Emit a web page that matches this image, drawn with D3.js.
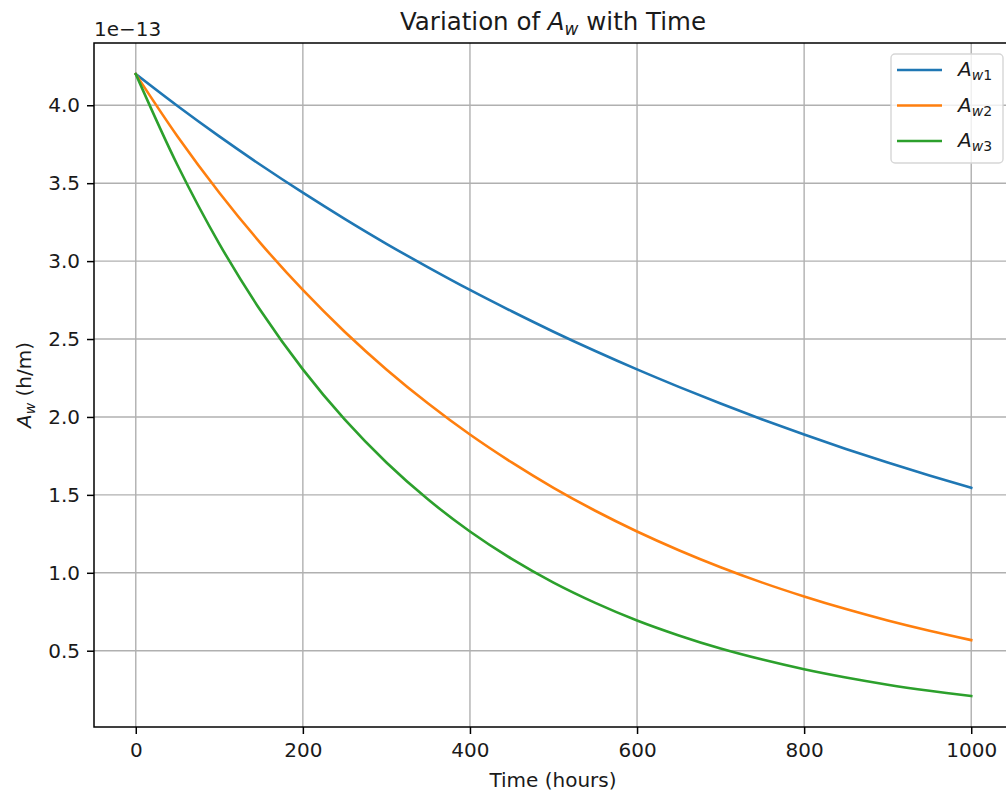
<!DOCTYPE html>
<html>
<head>
<meta charset="utf-8">
<script src="https://cdn.jsdelivr.net/npm/d3@7"></script>
<style>
  body { margin: 0; background: #fff; overflow: hidden; }
  svg { font-family: "DejaVu Sans", sans-serif; display: block; }
</style>
</head>
<body>
<div id="chart"></div>
<script>
// time in hours
var hours = [0, 50, 100, 150, 200, 250, 300, 350, 400, 450, 500,
             550, 600, 650, 700, 750, 800, 850, 900, 950, 1000];

// A_w values, in units of 1e-13 h/m
var aw1 = [4.200, 3.995, 3.800, 3.615, 3.439, 3.271, 3.111, 2.960, 2.815, 2.678, 2.547,
           2.423, 2.305, 2.193, 2.086, 1.984, 1.887, 1.795, 1.708, 1.624, 1.545];
var aw2 = [4.200, 3.800, 3.439, 3.111, 2.815, 2.547, 2.305, 2.086, 1.887, 1.708, 1.545,
           1.398, 1.265, 1.145, 1.036, 0.937, 0.848, 0.767, 0.694, 0.628, 0.568];
var aw3 = [4.200, 3.615, 3.111, 2.678, 2.305, 1.984, 1.708, 1.470, 1.265, 1.089, 0.937,
           0.807, 0.694, 0.598, 0.514, 0.443, 0.381, 0.328, 0.282, 0.243, 0.209];

var seriesNames = ['1', '2', '3'];
var seriesColors = ['#1f77b4', '#ff7f0e', '#2ca02c'];

var xTicks = [0, 200, 400, 600, 800, 1000];
var yTicks = [0.5, 1.0, 1.5, 2.0, 2.5, 3.0, 3.5, 4.0];

var width = 1006, height = 796;
var mLeft = 94, mTop = 43, mRight = 1013, mBottom = 727;
var textColor = '#1a1a1a';

var svg = d3.select('#chart').append('svg')
  .attr('width', width)
  .attr('height', height);

var x = d3.scaleLinear().domain([-50, 1050]).range([mLeft, mRight]);
var y = d3.scaleLinear().domain([0.0105, 4.3995]).range([mBottom, mTop]);

// grid
var grid = svg.append('g');
grid.selectAll('.gx').data(xTicks).enter().append('line')
  .attr('x1', function (d) { return x(d); })
  .attr('x2', function (d) { return x(d); })
  .attr('y1', mTop).attr('y2', mBottom)
  .attr('stroke', '#b0b0b0').attr('stroke-width', 1.4);
grid.selectAll('.gy').data(yTicks).enter().append('line')
  .attr('y1', function (d) { return y(d); })
  .attr('y2', function (d) { return y(d); })
  .attr('x1', mLeft).attr('x2', mRight)
  .attr('stroke', '#b0b0b0').attr('stroke-width', 1.4);

// lines
var line = d3.line()
  .x(function (d) { return x(d[0]); })
  .y(function (d) { return y(d[1]); })
  .curve(d3.curveCatmullRom);

[aw1, aw2, aw3].forEach(function (vals, i) {
  svg.append('path')
    .datum(hours.map(function (h, j) { return [h, vals[j]]; }))
    .attr('fill', 'none')
    .attr('stroke', seriesColors[i])
    .attr('stroke-width', 2.6)
    .attr('stroke-linecap', 'square')
    .attr('d', line);
});

// axes
var xAxis = d3.axisBottom(x).tickValues(xTicks).tickSize(7).tickPadding(9)
  .tickFormat(d3.format('d'));
var yAxis = d3.axisLeft(y).tickValues(yTicks).tickSize(7).tickPadding(7)
  .tickFormat(d3.format('.1f'));

var gx = svg.append('g').attr('transform', 'translate(0,' + mBottom + ')').call(xAxis);
var gy = svg.append('g').attr('transform', 'translate(' + mLeft + ',0)').call(yAxis);
[gx, gy].forEach(function (g) {
  g.select('.domain').remove();
  g.selectAll('.tick line').attr('stroke', '#000').attr('stroke-width', 1.5);
  g.selectAll('.tick text').attr('fill', textColor).attr('font-size', 20)
    .attr('font-family', '"DejaVu Sans", sans-serif');
});

// frame
svg.append('rect')
  .attr('x', mLeft).attr('y', mTop)
  .attr('width', mRight - mLeft).attr('height', mBottom - mTop)
  .attr('fill', 'none').attr('stroke', '#000').attr('stroke-width', 1.5);

// offset label
svg.append('text')
  .attr('x', mLeft).attr('y', 36)
  .attr('font-size', 20).attr('fill', textColor)
  .text('1e\u221213');

// title
var title = svg.append('text')
  .attr('x', 553).attr('y', 30)
  .attr('text-anchor', 'middle')
  .attr('font-size', 24.5).attr('fill', textColor);
title.append('tspan').text('Variation of ');
title.append('tspan').attr('font-style', 'italic').text('A');
title.append('tspan').attr('font-style', 'italic').attr('font-size', 17).attr('dy', 5).text('w');
title.append('tspan').attr('dy', -5).text(' with Time');

// x label
svg.append('text')
  .attr('x', 553).attr('y', 787)
  .attr('text-anchor', 'middle')
  .attr('font-size', 20).attr('fill', textColor)
  .text('Time (hours)');

// y label
var yl = svg.append('text')
  .attr('transform', 'translate(31,' + (mTop + mBottom) / 2 + ') rotate(-90)')
  .attr('text-anchor', 'middle')
  .attr('font-size', 20).attr('fill', textColor);
yl.append('tspan').attr('font-style', 'italic').text('A');
yl.append('tspan').attr('font-style', 'italic').attr('font-size', 14).attr('dy', 4).text('w');
yl.append('tspan').attr('dy', -4).text(' (h/m)');

// legend
var legend = svg.append('g');
legend.append('rect')
  .attr('x', 891).attr('y', 54)
  .attr('width', 112).attr('height', 109)
  .attr('rx', 4)
  .attr('fill', 'rgba(255,255,255,0.8)')
  .attr('stroke', '#d6d6d6').attr('stroke-width', 1.4);

var ly = d3.scalePoint().domain(seriesNames).range([70, 141]);
seriesNames.forEach(function (n, i) {
  legend.append('line')
    .attr('x1', 897).attr('x2', 942)
    .attr('y1', ly(n)).attr('y2', ly(n))
    .attr('stroke', seriesColors[i]).attr('stroke-width', 2.6);
  var t = legend.append('text')
    .attr('x', 958).attr('y', ly(n) + 6)
    .attr('font-size', 20).attr('fill', textColor);
  t.append('tspan').attr('font-style', 'italic').text('A');
  t.append('tspan').attr('font-style', 'italic').attr('font-size', 14).attr('dy', 4).text('w');
  t.append('tspan').attr('font-size', 14).text(n);
});
</script>
</body>
</html>
